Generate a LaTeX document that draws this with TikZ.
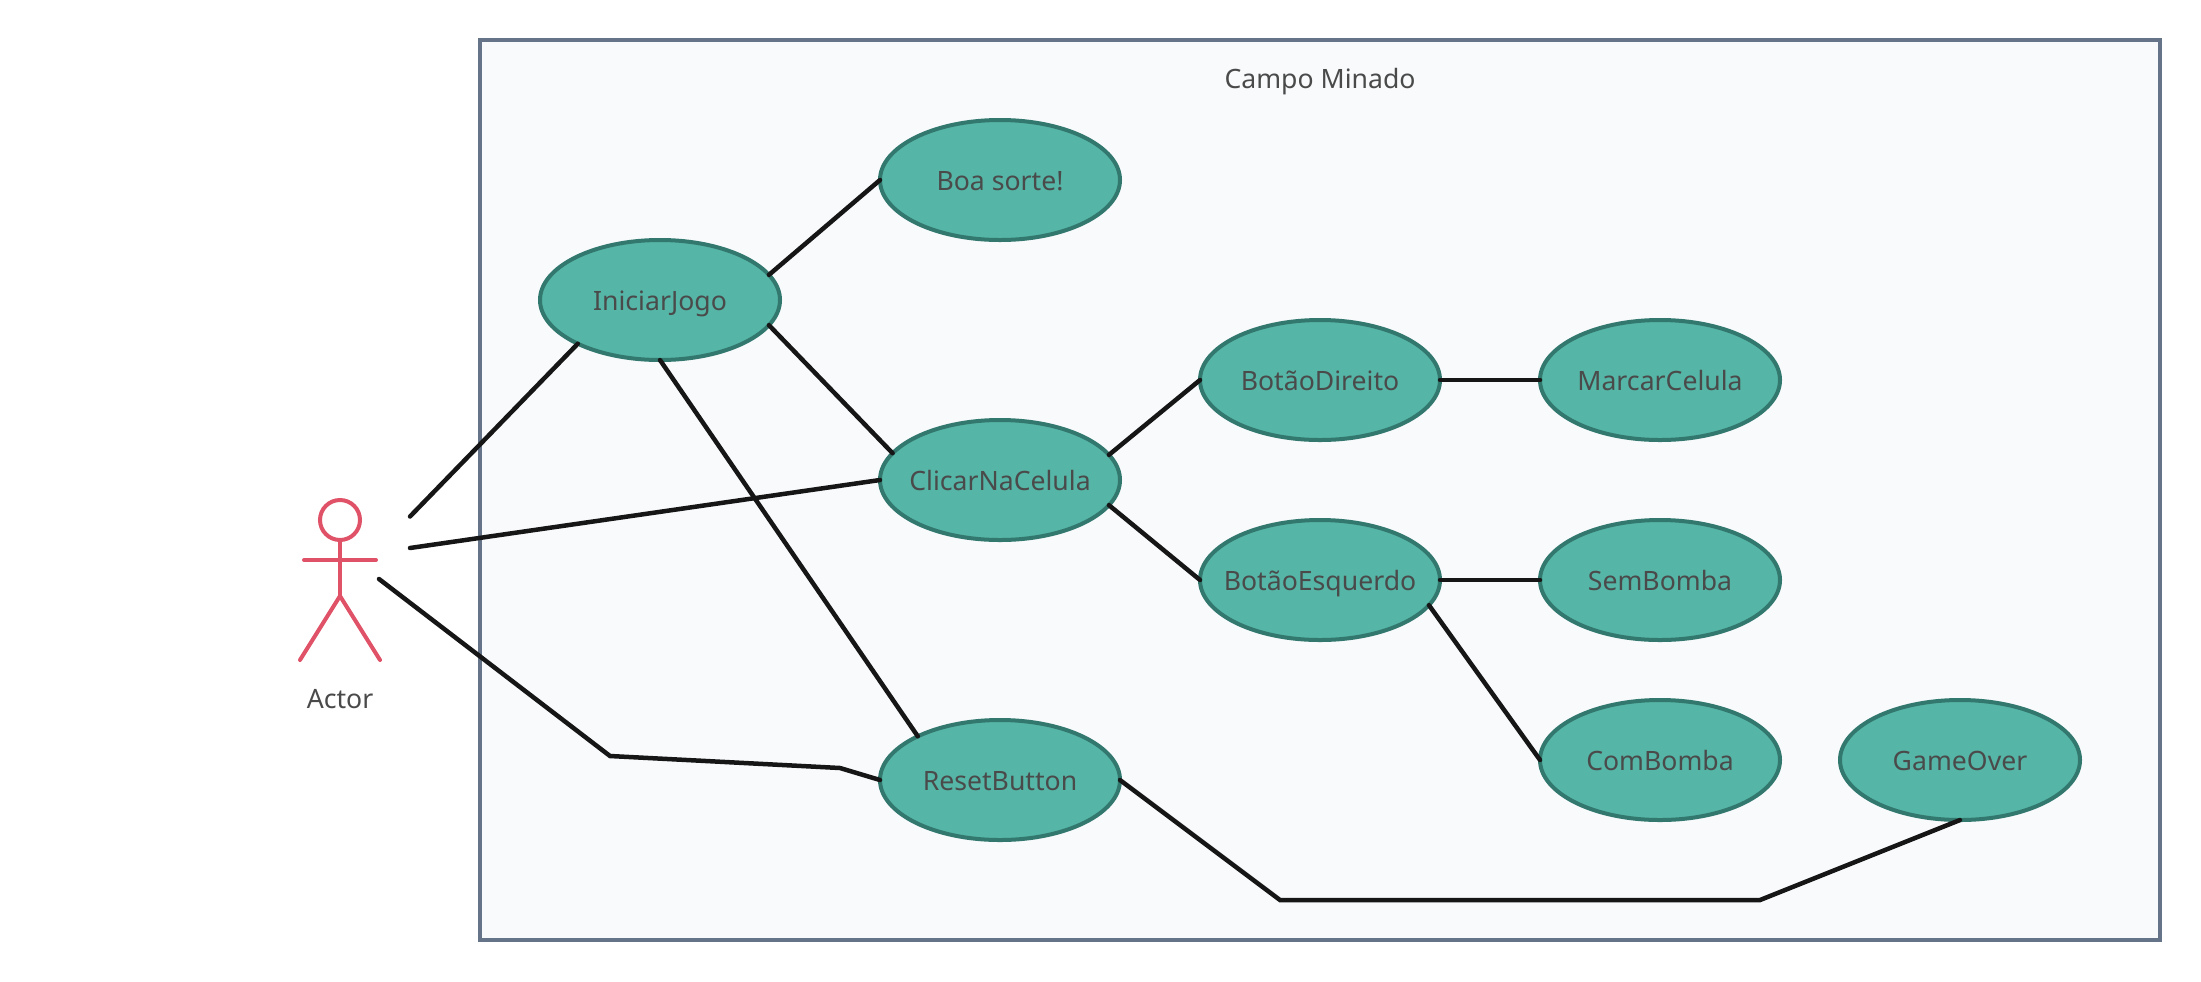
\documentclass[tikz,border=0pt]{standalone}
\usepackage{fontspec}
\setmainfont{Noto Sans}
\usetikzlibrary{shapes.geometric}
\definecolor{framefill}{HTML}{F8FAFC}
\definecolor{framedraw}{HTML}{66748A}
\definecolor{casefill}{HTML}{55B5A6}
\definecolor{casedraw}{HTML}{32786E}
\definecolor{actordraw}{HTML}{E05268}
\definecolor{linkdraw}{HTML}{161616}
\definecolor{labeltext}{HTML}{4A4A4A}
\newcommand{\casename}[1]{\makebox[0pt]{\rule{0pt}{12pt}\smash{#1}}}
\tikzset{
  every node/.style={font=\fontsize{15.15pt}{18pt}\selectfont, text=labeltext, outer sep=0pt},
  frame/.style={draw=framedraw, fill=framefill, line width=.09cm},
  usecase/.style={ellipse, draw=casedraw, fill=casefill, line width=.08cm, inner sep=0pt,
    minimum width=4.8cm, minimum height=2.4cm},
  link/.style={draw=linkdraw, line width=.09cm, line cap=round},
  stickman/.style={draw=actordraw, line width=.08cm, line cap=round}
}

\begin{document}
\begin{tikzpicture}
      \useasboundingbox (0cm,0cm) rectangle (44.02cm,-19.62cm);

      \draw[frame] (9.6cm,-.8cm) rectangle (43.2cm,-18.8cm);
      \node (title) at (26.4cm,-1.56cm) {\casename{Campo Minado}};

      %% the use cases
      \node (boasorte) at (20cm,-3.6cm) [usecase] {\casename{Boa sorte!}};
      \node (iniciar) at (13.2cm,-6cm) [usecase] {\casename{IniciarJogo}};
      \node (clicar) at (20cm,-9.6cm) [usecase] {\casename{ClicarNaCelula}};
      \node (direito) at (26.4cm,-7.6cm) [usecase] {\casename{BotãoDireito}};
      \node (esquerdo) at (26.4cm,-11.6cm) [usecase] {\casename{BotãoEsquerdo}};
      \node (marcar) at (33.2cm,-7.6cm) [usecase] {\casename{MarcarCelula}};
      \node (sembomba) at (33.2cm,-11.6cm) [usecase] {\casename{SemBomba}};
      \node (combomba) at (33.2cm,-15.2cm) [usecase] {\casename{ComBomba}};
      \node (gameover) at (39.2cm,-15.2cm) [usecase] {\casename{GameOver}};
      \node (reset) at (20cm,-15.6cm) [usecase] {\casename{ResetButton}};

      %% the actor
      \node (head) at (6.8cm,-10.4cm) [circle, stickman, fill=white, minimum size=.8cm, inner sep=0pt] {};
      \coordinate (hip) at (6.8cm,-11.92cm);
      \coordinate (handl) at (6.08cm,-11.2cm);
      \coordinate (handr) at (7.52cm,-11.2cm);
      \coordinate (footl) at (6cm,-13.2cm);
      \coordinate (footr) at (7.6cm,-13.2cm);
      \node (actor) at (6.8cm,-13.96cm) {\casename{Actor}};

      \draw[stickman] (head.south) -- (hip);
      \draw[stickman] (handl) -- (handr);
      \draw[stickman] (footl) -- (hip) -- (footr);

      \coordinate (actorup) at (8.2cm,-10.33cm);
      \coordinate (actormid) at (8.2cm,-10.96cm);
      \coordinate (actorlow) at (7.58cm,-11.58cm);
      \coordinate (bend1) at (12.2cm,-15.12cm);
      \coordinate (bend2) at (16.8cm,-15.36cm);
      \coordinate (bend3) at (25.6cm,-18cm);
      \coordinate (bend4) at (35.2cm,-18cm);

      \draw[link] (actorup) -- (iniciar.208);
      \draw[link] (actormid) -- (clicar.west);
      \draw[link] (actorlow) -- (bend1) -- (bend2) -- (reset.west);
      \draw[link] (iniciar.13.5) -- (boasorte.west);
      \draw[link] (iniciar.-13.5) -- (clicar.166.5);
      \draw[link] (iniciar.south) -- (reset.152);
      \draw[link] (clicar.13.5) -- (direito.west);
      \draw[link] (clicar.-13.5) -- (esquerdo.west);
      \draw[link] (direito.east) -- (marcar.west);
      \draw[link] (esquerdo.east) -- (sembomba.west);
      \draw[link] (esquerdo.-13.5) -- (combomba.west);
      \draw[link] (reset.east) -- (bend3) -- (bend4) -- (gameover.south);

    \end{tikzpicture}
\end{document}
